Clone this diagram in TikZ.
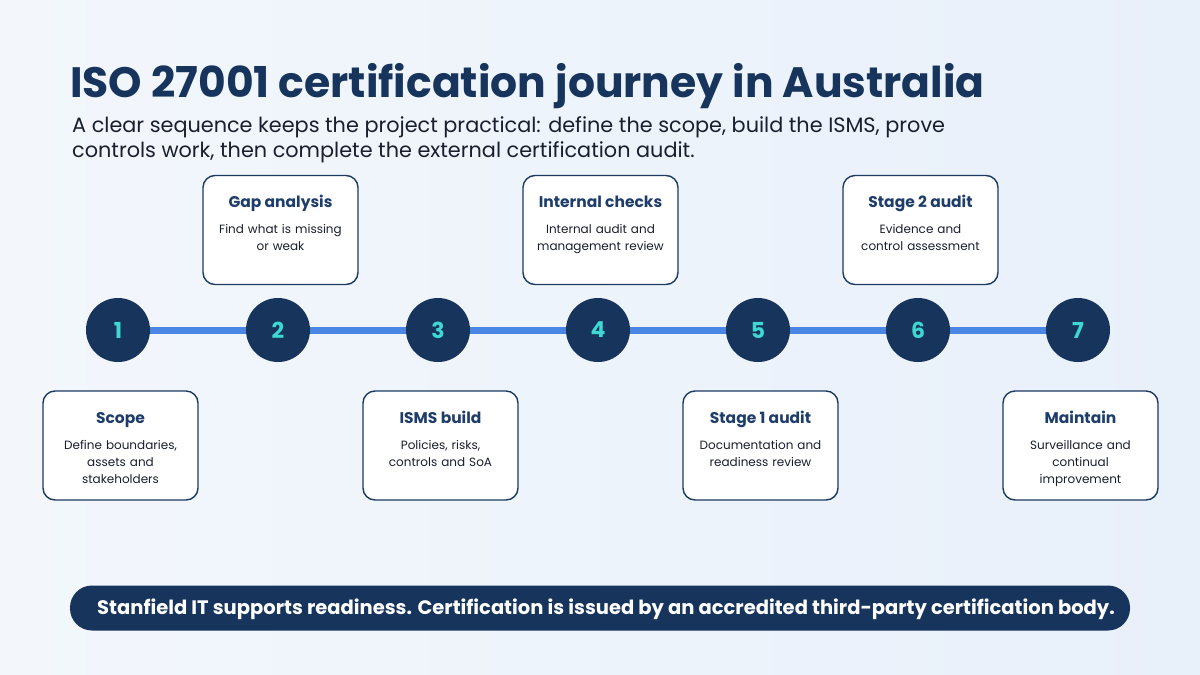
\documentclass[tikz,border=0pt]{standalone}
\usepackage{fontspec}
\setmainfont{Poppins}
\newfontfamily\popb{Poppins}[UprightFont=* Bold]
\definecolor{bgA}{HTML}{F3F7FC}
\definecolor{bgB}{HTML}{E8F0FA}
\definecolor{navy}{HTML}{17345C}
\definecolor{boxline}{HTML}{1D3A60}
\definecolor{ttl}{HTML}{1E3D6B}
\definecolor{txt}{HTML}{1A1F2E}
\definecolor{lineblue}{HTML}{4A86E3}
\definecolor{teal}{HTML}{3ED8D2}
\begin{document}
\begin{tikzpicture}[x=1pt,y=-1pt,
  card/.style={draw=boxline,line width=1.4pt,fill=white,rounded corners=12pt,minimum width=155pt,minimum height=109pt,inner sep=0pt},
  cardtitle/.style={font=\popb\fontsize{15.5}{18}\selectfont,text=ttl,anchor=base,inner sep=0pt},
  carddesc/.style={font=\fontsize{12}{17}\selectfont,text=txt,align=center,anchor=north,text width=150pt},
  stepdot/.style={circle,fill=navy,minimum size=64pt,inner sep=0pt,font=\popb\fontsize{22}{24}\selectfont,text=teal}]
\useasboundingbox (0,0) rectangle (1200,675);
\shade[left color=bgA,right color=bgB] (0,0) rectangle (1200,675);
\node[anchor=base west,font=\popb\fontsize{42.5}{45}\selectfont,text=navy,inner sep=0pt] (title) at (70,97) {ISO 27001 certification journey in Australia};
\node[anchor=north west,font=\fontsize{20.8}{25}\selectfont,text=txt,inner sep=0pt,align=left] (sub) at (72,116) {A clear sequence keeps the project practical: define the scope, build the ISMS, prove\\controls work, then complete the external certification audit.};
% steps
\foreach \i/\x in {1/118,2/278,3/438,4/598,5/758,6/918,7/1078}{
  \coordinate (c\i) at (\x,330);
}
\draw[lineblue,line width=7pt] (c1) -- (c7);
\foreach \i in {1,...,7}{ \node[stepdot] (s\i) at (c\i) {\i}; }
% top cards
\node[card] (b2) at (280.5,230) {};
\node[card] (b4) at (600.5,230) {};
\node[card] (b6) at (920.5,230) {};
% bottom cards
\node[card] (b1) at (120.5,445.5) {};
\node[card] (b3) at (440.5,445.5) {};
\node[card] (b5) at (760.5,445.5) {};
\node[card] (b7) at (1080.5,445.5) {};
\node[cardtitle] (t2) at (280.5,207.5) {Gap analysis};
\node[carddesc] (d2) at (280.5,221) {Find what is missing\\or weak};
\node[cardtitle] (t4) at (600.5,207.5) {Internal checks};
\node[carddesc] (d4) at (600.5,221) {Internal audit and\\management review};
\node[cardtitle] (t6) at (920.5,207.5) {Stage 2 audit};
\node[carddesc] (d6) at (920.5,221) {Evidence and\\control assessment};
\node[cardtitle] (t1) at (120.5,423.5) {Scope};
\node[carddesc] (d1) at (120.5,437) {Define boundaries,\\assets and\\stakeholders};
\node[cardtitle] (t3) at (440.5,423.5) {ISMS build};
\node[carddesc] (d3) at (440.5,437) {Policies, risks,\\controls and SoA};
\node[cardtitle] (t5) at (760.5,423.5) {Stage 1 audit};
\node[carddesc] (d5) at (760.5,437) {Documentation and\\readiness review};
\node[cardtitle] (t7) at (1080.5,423.5) {Maintain};
\node[carddesc] (d7) at (1080.5,437) {Surveillance and\\continual\\improvement};
% banner
\node[fill=navy,rounded corners=22pt,minimum width=1060pt,minimum height=45pt,inner sep=0pt] (ban) at (600,608) {};
\node[font=\popb\fontsize{19.5}{22}\selectfont,text=white] (bt) at (606,609) {Stanfield IT supports readiness. Certification is issued by an accredited third-party certification body.};
\end{tikzpicture}
\end{document}
